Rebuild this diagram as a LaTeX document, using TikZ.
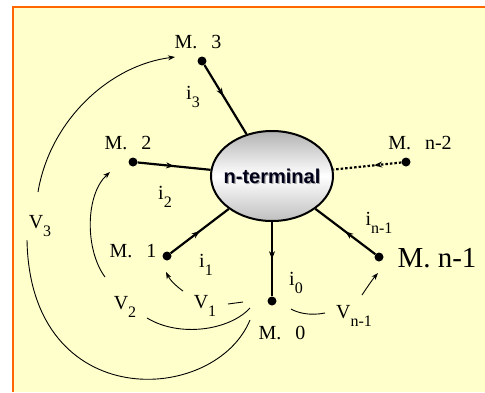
\documentclass[tikz,border=0pt]{standalone}
\usepackage{fontspec}
\setmainfont{Liberation Serif}
\newfontfamily\ntfont{Liberation Sans}
\usetikzlibrary{arrows.meta,decorations.markings,shapes.geometric}
\definecolor{bgyellow}{HTML}{FFFFCC}
\definecolor{frameorange}{HTML}{FF6600}
\newcommand\lbl[2]{#1\raisebox{-8pt}{\fontsize{16}{16}\selectfont #2}}
\begin{document}
\begin{tikzpicture}[x=1pt,y=-1pt,
  term/.style={circle,fill=black,inner sep=0pt,minimum size=9pt},
  mlabel/.style={font=\fontsize{20}{20}\selectfont,inner sep=0pt},
  biglabel/.style={font=\fontsize{29}{29}\selectfont,inner sep=0pt},
  cur/.style={font=\fontsize{20}{20}\selectfont,inner sep=0pt},
  wire/.style={line width=2.2pt,postaction={decorate},
    decoration={markings,mark=at position #1 with {\arrow{Stealth[length=8pt,width=6pt]}}}},
  wire/.default=0.5,
  wiredot/.style={line width=2.2pt,dash pattern=on 2.5pt off 2pt,postaction={decorate},
    decoration={markings,mark=at position 0.4 with {\arrow{Stealth[length=8pt,width=6pt]}}}},
  volt/.style={line width=0.9pt},
  voltarrow/.style={line width=0.9pt,-{Stealth[length=7pt,width=5pt]}}
]
\useasboundingbox (0,0) rectangle (485,392);
\fill[white] (0,0) rectangle (485,392);
\fill[bgyellow] (13,7) rectangle (485,392);
\draw[frameorange,line width=2pt] (13,392) -- (13,7) -- (485,7);

% terminals
\node[term] (m3) at (202,61) {};
\node[term] (m2) at (133,162) {};
\node[term] (m1) at (167,256) {};
\node[term] (m0) at (272,301) {};
\node[term] (mn1) at (379,257) {};
\node[term] (mn2) at (406,162) {};

% n-terminal element
\node[ellipse,draw,line width=2pt,minimum width=122pt,minimum height=90pt,inner sep=0pt,
  top color=gray!60,bottom color=gray!50,middle color=white] (nt) at (272,176) {};
\node[font=\ntfont\bfseries\fontsize{20}{20}\selectfont,text=gray!70,inner sep=0pt] (ntshadow) at (273.2,177.4) {n-terminal};
\node[font=\ntfont\bfseries\fontsize{20}{20}\selectfont,text=black!90!blue,inner sep=0pt] (ntlabel) at (272,176) {n-terminal};

% terminal labels
\node[mlabel] (lm3) at (198,42) {M.\hspace{0.7em}3};
\node[mlabel] (lm2) at (128,143) {M.\hspace{0.7em}2};
\node[mlabel] (lm1) at (133,251) {M.\hspace{0.7em}1};
\node[mlabel] (lm0) at (282,333) {M.\hspace{0.7em}0};
\node[mlabel] (lmn2) at (420,143) {M.\hspace{0.7em}n-2};
\node[biglabel] (lmn1) at (437,258) {M. n-1};

% wires
\draw[wire=0.45] (m3) -- (nt);
\draw[wire=0.5] (m2) -- (nt);
\draw[wire=0.5] (m1) -- (nt);
\draw[wire=0.5] (nt) -- (m0);
\draw[wire=0.5] (mn1) -- (nt);
\draw[wiredot] (mn2) -- (nt);

% current labels
\node[cur] (li3) at (193,97) {\lbl{i}{3}};
\node[cur] (li2) at (165,197) {\lbl{i}{2}};
\node[cur] (li1) at (206,265) {\lbl{i}{1}};
\node[cur] (li0) at (296,283) {\lbl{i}{0}};
\node[cur] (lin1) at (379,223) {\lbl{i}{n-1}};

% voltage labels
\node[cur] (lv3) at (40,226) {\lbl{V}{3}};
\node[cur] (lv2) at (125,307) {\lbl{V}{2}};
\node[cur] (lv1) at (205,306) {\lbl{V}{1}};
\node[cur] (lvn1) at (354,316) {\lbl{V}{n-1}};

% voltage arcs
\coordinate (v1a) at (243,302);
\coordinate (v1b) at (228,304);
\coordinate (v1c) at (183,291);
\coordinate (v1d) at (166,272);
\draw[volt] (v1a) -- (v1b);
\draw[voltarrow] (v1c) .. controls (176,286) and (170,280) .. (v1d);

\coordinate (v2a) at (250,308);
\coordinate (v2b) at (147,318);
\coordinate (v2c) at (105,277);
\coordinate (v2d) at (110,172);
\draw[volt] (v2a) .. controls (230,330) and (180,338) .. (v2b);
\draw[voltarrow] (v2c) .. controls (85,250) and (85,195) .. (v2d);

\coordinate (v3a) at (250,320);
\coordinate (v3b) at (27,240);
\coordinate (v3c) at (38,192);
\coordinate (v3d) at (175,57);
\draw[volt] (v3a) .. controls (215,405) and (30,415) .. (v3b);
\draw[voltarrow] (v3c) .. controls (50,120) and (110,65) .. (v3d);

\coordinate (vn1a) at (291,309);
\coordinate (vn1b) at (325,313);
\coordinate (vn1c) at (362,295);
\coordinate (vn1d) at (378,273);
\draw[volt] (vn1a) .. controls (298,313) and (310,316) .. (vn1b);
\draw[voltarrow] (vn1c) .. controls (366,289) and (372,280) .. (vn1d);
\end{tikzpicture}
\end{document}
